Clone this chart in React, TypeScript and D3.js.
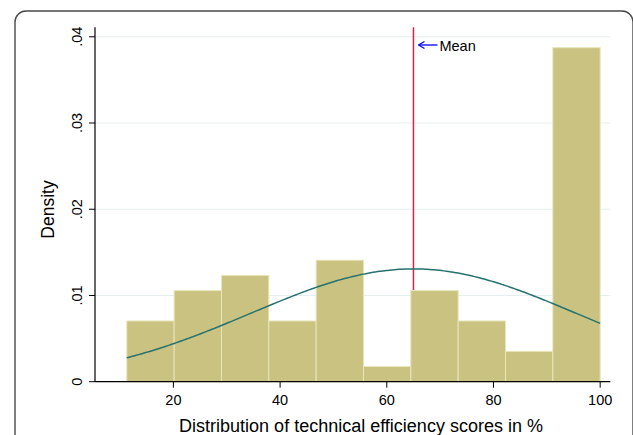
import React from "react";
import * as d3 from "d3";

// Histogram bins (lower edges) and densities
const binStart = 11.26;
const binWidth = 8.874;
const counts = [4, 6, 7, 4, 8, 1, 6, 4, 2, 22];
const totalN = 64;
const meanValue = 65.0;
const sdValue = 30.5;
const xTicks = [20, 40, 60, 80, 100];
const yTicks = [0, 0.01, 0.02, 0.03, 0.04];
const yTickLabels = ["0", ".01", ".02", ".03", ".04"];

const W = 633;
const H = 435;
const FONT = "'Liberation Sans', Arial, Helvetica, sans-serif";

export default function App() {
  const x = d3.scaleLinear().domain([5.3, 101.9]).range([95, 610.3]);
  const y = d3.scaleLinear().domain([0, 0.0411]).range([381.7, 27.3]);

  const bins = counts.map((c, i) => ({
    x0: binStart + i * binWidth,
    x1: binStart + (i + 1) * binWidth,
    d: c / (totalN * binWidth),
  }));

  const xs = d3.range(0, 201).map((i) => binStart + (i / 200) * (100 - binStart));
  const normPts = xs.map((v) => [
    v,
    Math.exp(-0.5 * ((v - meanValue) / sdValue) ** 2) / (sdValue * Math.sqrt(2 * Math.PI)),
  ] as [number, number]);
  const line = d3
    .line<[number, number]>()
    .x((d) => x(d[0]))
    .y((d) => y(d[1]))
    .curve(d3.curveBasis);

  const [x0, x1] = x.range();
  const yTop = y.range()[1];
  const yBase = y(0);
  const mx = x(meanValue);

  return (
    <svg
      width={W}
      height={H}
      style={{ position: "absolute", left: 0, top: 0, background: "#fff" }}
      fontFamily={FONT}
    >
      <rect x={0} y={0} width={W} height={H} fill="#fff" />
      <rect x={15} y={11} width={618} height={520} rx={11} ry={11} fill="none" stroke="#4a4a4a" strokeWidth={1.4} />

      {/* gridlines */}
      {yTicks.slice(1).map((t) => (
        <line key={t} x1={x0} x2={x1} y1={y(t)} y2={y(t)} stroke="#e6eff0" strokeWidth={1} />
      ))}

      {/* mean line */}
      <line x1={mx} x2={mx} y1={yTop} y2={yBase} stroke="#d4244f" strokeWidth={1.5} />

      {/* bars */}
      {bins.map((b, i) => (
        <rect
          key={i}
          x={x(b.x0)}
          y={y(b.d)}
          width={x(b.x1) - x(b.x0)}
          height={yBase - y(b.d)}
          fill="#c9c281"
          stroke="#e9e5bb"
          strokeWidth={1}
        />
      ))}

      {/* normal curve */}
      <path d={line(normPts) || ""} fill="none" stroke="#25726f" strokeWidth={1.5} />

      {/* axes */}
      <line x1={x0} x2={x0} y1={yTop} y2={yBase} stroke="#000" strokeWidth={1.2} />
      <line x1={x0} x2={x1} y1={yBase} y2={yBase} stroke="#000" strokeWidth={1.2} />
      {yTicks.map((t, i) => (
        <g key={t}>
          <line x1={x0 - 6} x2={x0} y1={y(t)} y2={y(t)} stroke="#000" strokeWidth={1} />
          <text
            transform={`translate(${x0 - 13},${y(t)}) rotate(-90)`}
            textAnchor="middle"
            fontSize={14.5}
            fill="#000"
          >
            {yTickLabels[i]}
          </text>
        </g>
      ))}
      {xTicks.map((t) => (
        <g key={t}>
          <line x1={x(t)} x2={x(t)} y1={yBase} y2={yBase + 6} stroke="#000" strokeWidth={1} />
          <text x={x(t)} y={yBase + 23} textAnchor="middle" fontSize={14.5} fill="#000">
            {t}
          </text>
        </g>
      ))}

      {/* axis titles */}
      <text transform={`translate(54,${(yTop + yBase) / 2 + 5}) rotate(-90)`} textAnchor="middle" fontSize={17.5} fill="#000">
        Density
      </text>
      <text x={361} y={432} textAnchor="middle" fontSize={18} fill="#000">
        Distribution of technical efficiency scores in %
      </text>

      {/* Mean annotation */}
      <line x1={mx + 5} x2={mx + 24} y1={45} y2={45} stroke="#0000ff" strokeWidth={1.3} />
      <path d={`M${mx + 5},45 L${mx + 11},41.5 M${mx + 5},45 L${mx + 11},48.5`} stroke="#0000ff" strokeWidth={1.3} fill="none" />
      <text x={mx + 26} y={51} fontSize={14.5} fill="#000">
        Mean
      </text>
    </svg>
  );
}
